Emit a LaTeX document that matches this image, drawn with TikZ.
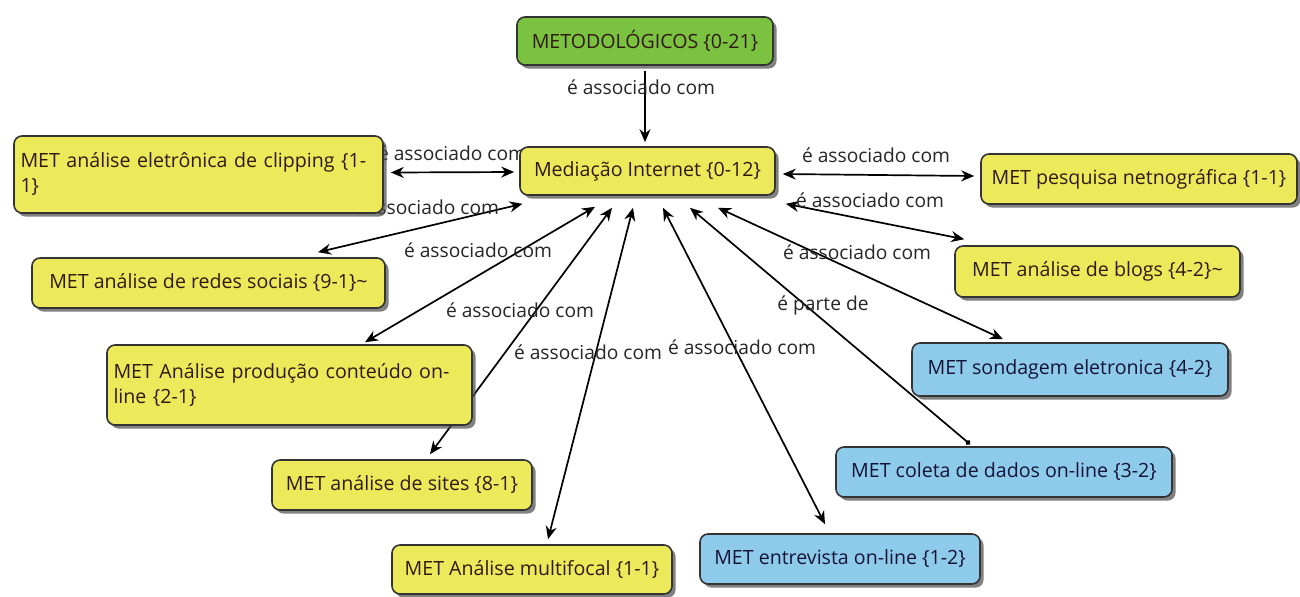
\documentclass[tikz,border=0pt]{standalone}
\usepackage{fontspec}
\setmainfont{Open Sans}
\usetikzlibrary{arrows.meta,shadows}
\pgfdeclarelayer{front}
\pgfsetlayers{main,front}
\definecolor{ylw}{RGB}{236,234,90}
\definecolor{grn}{RGB}{122,194,64}
\definecolor{blu}{RGB}{142,202,234}
\definecolor{txty}{RGB}{50,25,15}
\definecolor{txtb}{RGB}{20,20,55}
\tikzset{
 box/.style={draw=black!80, line width=0.8pt, rounded corners=4pt, inner sep=0pt,
   font=\fontsize{9.8}{12.5}\selectfont, text=txty,
   drop shadow={shadow xshift=1.8pt, shadow yshift=-1.8pt, fill=black!70, opacity=0.7}},
 ybox/.style={box, fill=ylw},
 gbox/.style={box, fill=grn},
 bbox/.style={box, fill=blu, text=txtb},
 lab/.style={font=\fontsize{9.6}{11}\selectfont, text=black!85, inner sep=0pt},
 arr/.style={line width=0.85pt, -{Stealth[length=6.5pt,width=5.5pt]}},
 biarr/.style={line width=0.85pt, {Stealth[length=6.5pt,width=5.5pt]}-{Stealth[length=6.5pt,width=5.5pt]}},
 dotarr/.style={line width=0.85pt, {Circle[length=2.6pt]}-{Stealth[length=6.5pt,width=5.5pt]}},
}
\begin{document}
\begin{tikzpicture}[x=0.5pt,y=-0.5pt]
\useasboundingbox (0,0) rectangle (1300,596);
\fill[white] (0,0) rectangle (1300,596);

\begin{pgfonlayer}{front}
\node[gbox, minimum width=128pt, minimum height=24pt] (metod) at (645,41) {METODOLÓGICOS \{0-21\}};
\node[ybox, minimum width=127.5pt, minimum height=24pt] (med) at (647.5,171) {Mediação Internet \{0-12\}};
\node[ybox, minimum width=184.5pt, minimum height=38.5pt, text width=178pt, align=left] (clip) at (198.5,174.5) {MET análise eletrônica de clipping \{1-\\1\}};
\node[ybox, minimum width=158pt, minimum height=25pt] (netno) at (1139,179) {MET pesquisa netnográfica \{1-1\}};
\node[ybox, minimum width=176.5pt, minimum height=25pt] (redes) at (208.5,283) {MET análise de redes sociais \{9-1\}\textasciitilde};
\node[ybox, minimum width=142.5pt, minimum height=25.5pt] (blogs) at (1097.5,271.5) {MET análise de blogs \{4-2\}\textasciitilde};
\node[ybox, minimum width=182.5pt, minimum height=40pt, text width=176pt, align=left] (prod) at (289.5,385) {MET Análise produção conteúdo on-\\line \{2-1\}};
\node[bbox, minimum width=158pt, minimum height=26.5pt] (sond) at (1070,369.5) {MET sondagem eletronica \{4-2\}};
\node[ybox, minimum width=130pt, minimum height=25pt] (sites) at (402,485) {MET análise de sites \{8-1\}};
\node[bbox, minimum width=168pt, minimum height=25pt] (coleta) at (1004,472) {MET coleta de dados on-line \{3-2\}};
\node[ybox, minimum width=140pt, minimum height=24.5pt] (multi) at (532,569.5) {MET Análise multifocal \{1-1\}};
\node[bbox, minimum width=140pt, minimum height=25pt] (entrev) at (840,559) {MET entrevista on-line \{1-2\}};
\end{pgfonlayer}

% ---- connectors ----
\draw[arr] ([shift={(0,5)}]metod.south) -- ([shift={(-2.5,-4)}]med.north);
\draw[biarr] ([shift={(7,-2)}]clip.east) -- ([shift={(-5,1)}]med.west);
\draw[biarr] ([shift={(109.5,-5)}]redes.north) -- ([shift={(-125,8)}]med.south);
\draw[biarr] ([shift={(75.5,-2)}]prod.north) -- ([shift={(-52.5,11)}]med.south);
\draw[biarr] ([shift={(28,-5)}]sites.north) -- ([shift={(-35.5,12)}]med.south);
\draw[biarr] ([shift={(16,-5)}]multi.north) -- ([shift={(-14.5,12)}]med.south);
\draw[biarr] ([shift={(-15,-9)}]entrev.north) -- ([shift={(15.5,12)}]med.south);
\draw[dotarr] ([shift={(-34,-2)}]coleta.north) -- ([shift={(42.5,12)}]med.south);
\draw[biarr] ([shift={(-67,-3)}]sond.north) -- ([shift={(70.5,12)}]med.south);
\draw[biarr] ([shift={(10,-6)}]blogs.north west) -- ([shift={(10,8)}]med.south east);
\draw[biarr] ([shift={(-6,-3)}]netno.west) -- ([shift={(7,3)}]med.east);

% ---- labels ----
\node[lab] (l1) at (641,87) {é associado com};
\node[lab] (l2) at (452,153) {é associado com};
\node[lab] (l3) at (425,207) {é associado com};
\node[lab] (l4) at (478,250) {é associado com};
\node[lab] (l5) at (520,310) {é associado com};
\node[lab] (l6) at (588,352) {é associado com};
\node[lab] (l7) at (742,347) {é associado com};
\node[lab] (l8) at (823,305) {é parte de};
\node[lab] (l9) at (857,252) {é associado com};
\node[lab] (l10) at (870,200) {é associado com};
\node[lab] (l11) at (876,155) {é associado com};
\end{tikzpicture}
\end{document}
